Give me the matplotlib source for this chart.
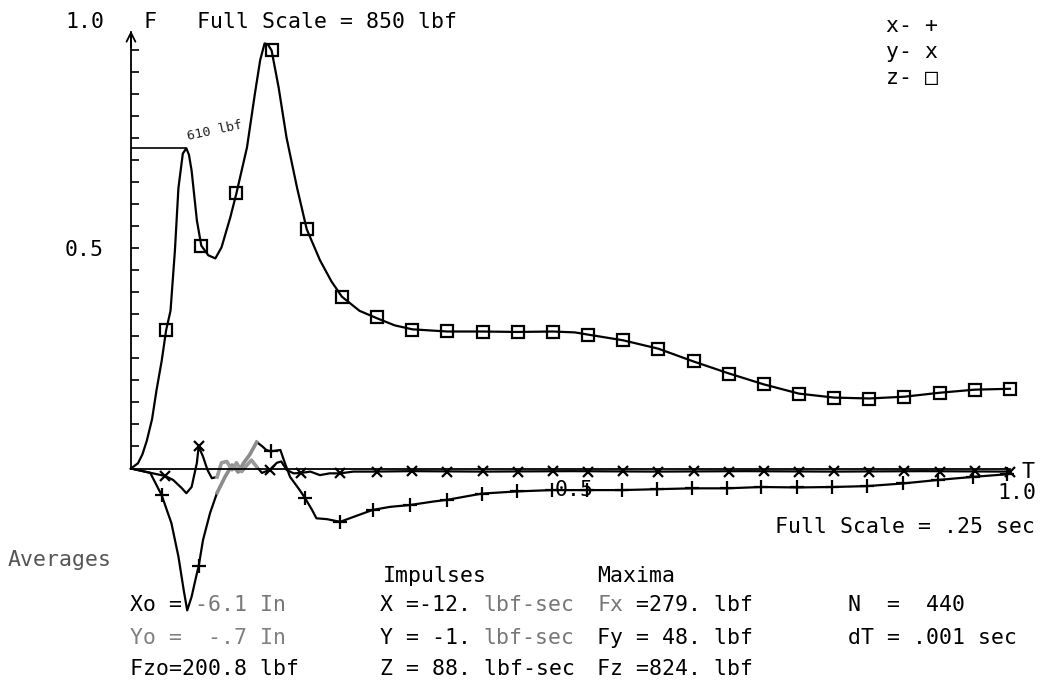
import numpy as np
import matplotlib
matplotlib.use("Agg")
from matplotlib import pyplot as plt

# z force (squares), fraction of full scale 850 lbf, vs fraction of .25 sec
zT = [0.000, 0.008, 0.013, 0.018, 0.024, 0.029, 0.035, 0.040, 0.045, 0.050,
      0.054, 0.059, 0.063, 0.066, 0.069, 0.075, 0.080, 0.088, 0.096, 0.103,
      0.113, 0.120, 0.132, 0.141, 0.147, 0.152, 0.156, 0.160, 0.168, 0.177,
      0.189, 0.200, 0.215, 0.228, 0.240, 0.260, 0.280, 0.300, 0.320, 0.360,
      0.400, 0.440, 0.480, 0.505, 0.520, 0.560, 0.600, 0.640, 0.680, 0.720,
      0.760, 0.800, 0.840, 0.880, 0.920, 0.960, 1.000]
zF = [0.000, 0.012, 0.032, 0.063, 0.112, 0.177, 0.245, 0.314, 0.358, 0.495,
      0.637, 0.715, 0.727, 0.712, 0.676, 0.563, 0.506, 0.484, 0.477, 0.502,
      0.570, 0.625, 0.729, 0.851, 0.927, 0.965, 0.962, 0.949, 0.865, 0.751,
      0.637, 0.543, 0.473, 0.425, 0.390, 0.358, 0.341, 0.325, 0.316, 0.311,
      0.311, 0.310, 0.311, 0.309, 0.304, 0.291, 0.272, 0.243, 0.216, 0.191,
      0.170, 0.161, 0.159, 0.163, 0.172, 0.179, 0.181]
zmT = [0.04, 0.08, 0.12, 0.16, 0.20, 0.24, 0.28, 0.32, 0.36, 0.40, 0.44, 0.48, 0.52,
       0.56, 0.60, 0.64, 0.68, 0.72, 0.76, 0.80, 0.84, 0.88, 0.92, 0.96, 1.00]
zmF = [0.314, 0.506, 0.625, 0.949, 0.543, 0.390, 0.344, 0.315, 0.312, 0.311, 0.310, 0.311, 0.304,
       0.291, 0.272, 0.243, 0.215, 0.191, 0.169, 0.160, 0.158, 0.163, 0.172, 0.179, 0.181]

# x force (plus)
xT = [0.000, 0.022, 0.035, 0.046, 0.054, 0.060, 0.064, 0.069, 0.075, 0.077,
      0.082, 0.090, 0.098, 0.107, 0.115, 0.122, 0.129, 0.135, 0.143, 0.149,
      0.154, 0.159, 0.170, 0.175, 0.181, 0.192, 0.198, 0.206, 0.211, 0.223,
      0.238, 0.253, 0.275, 0.295, 0.317, 0.344, 0.360, 0.399, 0.439, 0.479,
      0.519, 0.559, 0.598, 0.638, 0.678, 0.717, 0.758, 0.798, 0.837, 0.878,
      0.918, 0.958, 0.997]
xF = [0.000, -0.010, -0.061, -0.124, -0.200, -0.276, -0.322, -0.291, -0.238, -0.222,
      -0.162, -0.101, -0.055, -0.019, 0.008, -0.008, 0.015, 0.031, 0.060, 0.051,
      0.042, 0.039, 0.042, 0.013, -0.019, -0.049, -0.067, -0.094, -0.113, -0.115,
      -0.121, -0.110, -0.094, -0.087, -0.083, -0.075, -0.071, -0.057, -0.052, -0.049,
      -0.049, -0.049, -0.047, -0.045, -0.045, -0.042, -0.043, -0.042, -0.040, -0.034,
      -0.026, -0.019, -0.013]
xmT = [0.035, 0.077, 0.159, 0.198, 0.238, 0.275, 0.317, 0.360, 0.399, 0.439, 0.479, 0.519,
       0.559, 0.598, 0.638, 0.678, 0.717, 0.758, 0.798, 0.837, 0.878, 0.918, 0.958, 0.997]
xmF = [-0.061, -0.222, 0.039, -0.067, -0.121, -0.094, -0.083, -0.071, -0.057, -0.052, -0.049, -0.049,
       -0.049, -0.047, -0.045, -0.045, -0.042, -0.043, -0.042, -0.040, -0.034, -0.026, -0.019, -0.013]

# y force (cross)
yT = [0.000, 0.025, 0.039, 0.048, 0.058, 0.063, 0.069, 0.075, 0.077, 0.082,
      0.087, 0.092, 0.098, 0.103, 0.109, 0.115, 0.120, 0.126, 0.132, 0.137,
      0.143, 0.149, 0.158, 0.166, 0.171, 0.177, 0.185, 0.194, 0.204, 0.215,
      0.226, 0.238, 0.253, 0.275, 0.320, 0.400, 0.500, 0.600, 0.700, 0.800,
      0.900, 0.997]
yF = [0.000, -0.011, -0.017, -0.026, -0.045, -0.056, -0.042, 0.013, 0.050, 0.027,
      -0.003, -0.022, -0.019, 0.013, 0.016, -0.003, 0.013, -0.007, 0.008, 0.019,
      0.004, -0.010, -0.003, 0.013, 0.016, -0.003, -0.011, -0.010, -0.007, -0.015,
      -0.011, -0.011, -0.007, -0.007, -0.006, -0.007, -0.006, -0.007, -0.006, -0.007,
      -0.006, -0.007]
ymT = [0.039, 0.077, 0.158, 0.194, 0.238, 0.28, 0.32, 0.36, 0.40, 0.44, 0.48, 0.52,
       0.56, 0.60, 0.64, 0.68, 0.72, 0.76, 0.80, 0.84, 0.88, 0.92, 0.96, 1.00]
ymF = [-0.017, 0.050, -0.003, -0.010, -0.011, -0.007, -0.006, -0.007, -0.006, -0.007, -0.006, -0.007,
       -0.006, -0.007, -0.006, -0.007, -0.006, -0.007, -0.006, -0.007, -0.006, -0.007, -0.006, -0.008]

W, H = 1053, 681
fig = plt.figure(figsize=(W / 100, H / 100), dpi=100)
ax = fig.add_axes([0, 0, 1, 1])
ax.set_xlim(-0.149, 1.049)
ax.set_ylim(-0.4824, 1.0636)
for s in ['top', 'right']:
    ax.spines[s].set_visible(False)
ax.spines['left'].set_position(('data', 0))
ax.spines['bottom'].set_position(('data', 0))
ax.spines['left'].set_bounds(0, 0.99)
ax.spines['bottom'].set_bounds(0, 1.0)
ax.spines['left'].set_linewidth(1.3)
ax.spines['bottom'].set_linewidth(1.3)
ax.set_xticks([])
ax.set_yticks(np.arange(0.05, 0.96, 0.05))
ax.tick_params(axis='y', direction='in', length=6, width=1.2, labelleft=False)
ax.annotate('', xy=(0, 1.0), xytext=(0, 0.95),
            arrowprops=dict(arrowstyle='->', lw=1.3, color='black', mutation_scale=16))

lw = 1.6
ax.plot(zT, zF, color='black', lw=lw)
ax.plot(zmT, zmF, ls='none', marker='s', ms=8, mfc='none', mec='black', mew=1.6)
ax.plot(xT, xF, color='black', lw=lw)
ax.plot(xmT, xmF, ls='none', marker='+', ms=10, mec='black', mew=1.6)
ax.plot(yT, yF, color='black', lw=lw)
ax.plot(ymT, ymF, ls='none', marker='x', ms=7, mec='black', mew=1.6)

# faded part of the scan
xT_a, xF_a = np.array(xT), np.array(xF)
m = (xT_a >= 0.098) & (xT_a <= 0.143)
ax.plot(xT_a[m], xF_a[m], color='#8c8c8c', lw=2.6)
yT_a, yF_a = np.array(yT), np.array(yF)
m = (yT_a >= 0.098) & (yT_a <= 0.143)
ax.plot(yT_a[m], yF_a[m], color='#9a9a9a', lw=2.6)

# first peak marker line (610 lbf)
i = int(np.argmax(zF[:15]))
ax.hlines(zF[i], 0, zT[i], color='black', lw=1.2)

mono = 'DejaVu Sans Mono'
fs = 15.5


def put(x, y, s, color='black', size=fs, **kw):
    fig.text(x / W, 1 - y / H, s, family=mono, fontsize=size, color=color,
             va='center', ha='left', **kw)


put(65, 22, '1.0')
put(143, 22, 'F')
put(197, 22, 'Full Scale = 850 lbf')
put(65, 250, '0.5')
put(886, 26, 'x- +')
put(886, 52, 'y- x')
put(886, 78, 'z- \u25a1')
fig.text(215 / W, 1 - 131 / H, '610 lbf', family=mono, fontsize=9.5, color='#222222',
         rotation=12, ha='center', va='center')
put(555, 490, '0.5')
put(1021, 472, 'T')
put(997, 493, '1.0')
put(775, 527, 'Full Scale = .25 sec')

put(8, 560, 'Averages', color='#555555')
put(383, 576, 'Impulses')
put(597, 576, 'Maxima')

p = 12.96
put(130, 605, 'Xo =')
put(130 + 5 * p, 605, '-6.1 In', color='#777777')
put(380, 605, 'X =-12.')
put(380 + 8 * p, 605, 'lbf-sec', color='#777777')
put(597, 605, 'Fx', color='#777777')
put(597 + 2 * p, 605, ' =279. lbf')
put(848, 605, 'N  =  440')

put(130, 638, 'Yo =  -.7 In', color='#808080')
put(380, 638, 'Y = -1.')
put(380 + 8 * p, 638, 'lbf-sec', color='#777777')
put(597, 638, 'Fy = 48. lbf')
put(848, 638, 'dT = .001 sec')

put(130, 669, 'Fzo=200.8 lbf')
put(380, 669, 'Z = 88. lbf-sec')
put(597, 669, 'Fz =824. lbf')

fig.savefig('out.png', dpi=100)
